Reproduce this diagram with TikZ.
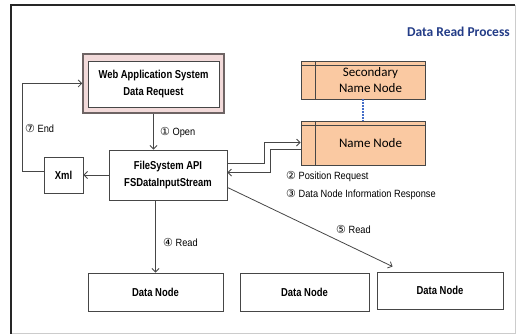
\documentclass[tikz,border=0pt]{standalone}
\usepackage{fontspec}
\setmainfont{Liberation Sans}
\newfontfamily\boxfont[FakeStretch=0.82]{Liberation Sans}
\newfontfamily\lblfont[FakeStretch=0.88]{Liberation Sans}
\newfontfamily\circfont{DejaVu Sans}
\newfontfamily\calfont{Carlito}
\usetikzlibrary{arrows.meta,calc}
\definecolor{pinkfill}{RGB}{242,218,218}
\definecolor{pinkedge}{RGB}{110,100,100}
\definecolor{peach}{RGB}{250,201,162}
\definecolor{edge}{RGB}{70,70,70}
\definecolor{titleblue}{RGB}{35,60,135}
\definecolor{dotblue}{RGB}{70,110,200}
\newcommand{\cn}[1]{{\circfont\fontsize{11}{12}\selectfont #1}}
\begin{document}
\begin{tikzpicture}[x=1pt,y=-1pt,
  box/.style={draw=edge,line width=0.9pt,fill=white,inner sep=0pt,
    font=\boxfont\bfseries\fontsize{11.5}{17}\selectfont,align=center},
  nnbox/.style={draw=edge,line width=0.9pt,fill=peach,inner sep=0pt,
    font=\calfont\fontsize{13}{16}\selectfont,align=center},
  conn/.style={draw=edge,line width=0.8pt,-{Straight Barb[length=3.5pt,width=7pt]}},
  lbl/.style={font=\lblfont\fontsize{10.5}{12}\selectfont,anchor=west,inner sep=0pt},
]
\useasboundingbox (0,0) rectangle (517,336);
% frame
\draw[black!20,line width=1pt] (515,5) -- (515,334) -- (11,334);
\draw[black!85,line width=1.6pt] (11,334) -- (11,5) -- (515,5);
% title
\node[anchor=east,inner sep=0pt,text=titleblue,font=\calfont\bfseries\fontsize{13.5}{16}\selectfont] (title) at (510,32) {Data Read Process};
% web application
\node[draw=pinkedge,line width=1.5pt,fill=pinkfill,minimum width=141pt,minimum height=59pt] (wa) at (153.5,83.5) {};
\node[box,minimum width=131pt,minimum height=46pt] (wai) at (153.5,84) {Web Application System\\Data Request};
% filesystem
\node[box,minimum width=118pt,minimum height=50pt] (fs) at (168,175) {FileSystem API\\FSDataInputStream};
% xml
\node[box,minimum width=39pt,minimum height=36pt] (xml) at (63.5,175) {Xml};
% name nodes
\node[nnbox,minimum width=124pt,minimum height=38pt] (snn) at (363,80) {\hspace*{15pt}Secondary\\\hspace*{15pt}Name Node};
\node[nnbox,minimum width=124pt,minimum height=44pt] (nn) at (363,143) {\hspace*{15pt}\raisebox{-3pt}{Name Node}};
\foreach \n in {snn,nn}{
  \draw[edge,line width=0.8pt] ($(\n.north west)+(0,5)$) -- ($(\n.north east)+(0,5)$);
  \draw[edge,line width=0.8pt] ($(\n.north west)+(15,0)$) -- ($(\n.south west)+(15,0)$);
}
\draw[dotblue,line width=1.1pt,dash pattern=on 1.4pt off 1.6pt] (snn.south) -- (nn.north);
% data nodes
\node[box,minimum width=135pt,minimum height=38pt] (dn1) at (155.5,292) {Data Node};
\node[box,minimum width=129pt,minimum height=38pt] (dn2) at (304.5,292) {Data Node};
\node[box,minimum width=126pt,minimum height=37pt] (dn3) at (440,290.5) {Data Node};
% connectors
\draw[conn] (wa.south) -- (wa.south |- fs.north);
\draw[conn] (fs.west) -- (xml.east);
\draw[conn] ($(xml.west)+(0,-4)$) -- ++(-21,0) |- (wa.west);
\draw[conn] ($(fs.north east)+(0,14)$) -- ++(37,0) |- ($(nn.north west)+(0,22)$);
\draw[conn] ($(nn.north west)+(0,29)$) -- ++(-30,0) |- ($(fs.north east)+(0,23)$);
\draw[conn] (fs.south -| dn1.north) -- (dn1.north);
\draw[conn] ($(fs.south east)+(0,-13)$) -- ($(dn3.north west)+(16,-5)$);
% labels
\node[lbl] (l7) at (25,128) {\cn{⑦} End};
\node[lbl] (l1) at (160,133) {\cn{①} Open};
\node[lbl] (l2) at (286,177) {\cn{②} Position Request};
\node[lbl] (l3) at (286,195) {\cn{③} Data Node Information Response};
\node[lbl] (l5) at (336,229) {\cn{⑤} Read};
\node[lbl] (l4) at (163,242) {\cn{④} Read};
\end{tikzpicture}
\end{document}
